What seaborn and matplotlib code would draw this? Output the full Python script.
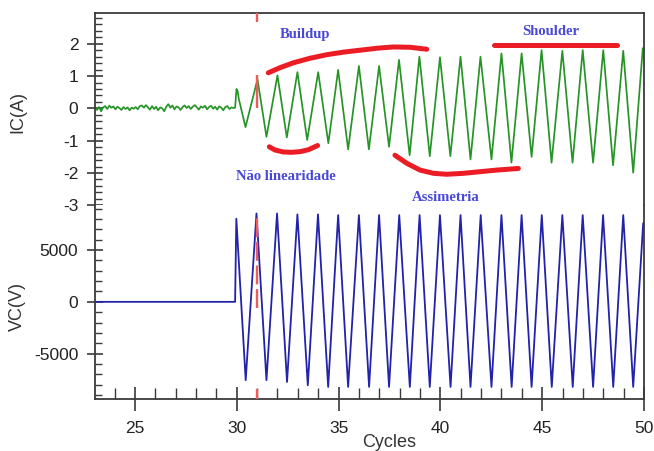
import matplotlib
matplotlib.use("Agg")
import matplotlib.pyplot as plt
import seaborn as sns
import pandas as pd
from matplotlib.ticker import MultipleLocator, FixedLocator

# ---------------- data ----------------
noise_cycle = [23.04, 23.14, 23.24, 23.34, 23.44, 23.54, 23.64, 23.74, 23.84, 23.94,
               24.04, 24.14, 24.24, 24.34, 24.44, 24.54, 24.64, 24.74, 24.84, 24.94,
               25.04, 25.14, 25.24, 25.34, 25.44, 25.54, 25.64, 25.74, 25.84, 25.94,
               26.04, 26.14, 26.24, 26.34, 26.44, 26.54, 26.64, 26.74, 26.84, 26.94,
               27.04, 27.14, 27.24, 27.34, 27.44, 27.54, 27.64, 27.74, 27.84, 27.94,
               28.04, 28.14, 28.24, 28.34, 28.44, 28.54, 28.64, 28.74, 28.84, 28.94,
               29.04, 29.14, 29.24, 29.34, 29.44, 29.54, 29.64, 29.74, 29.84]
noise_ic = [0.02, -0.05, 0.04, -0.09, 0.03, 0.07, -0.02, 0.08, 0.02, 0.06,
            -0.03, 0.05, 0.01, -0.05, 0.04, -0.02, 0.03, -0.06, 0.02, -0.01,
            0.04, -0.03, 0.07, 0.09, 0.02, 0.10, 0.03, -0.04, 0.07, -0.02,
            0.05, -0.06, 0.03, 0.00, -0.09, 0.05, 0.13, 0.02, 0.09, -0.03,
            0.06, 0.03, -0.05, 0.04, 0.09, 0.01, 0.07, -0.02, 0.05, 0.10,
            0.03, -0.04, 0.06, 0.02, 0.08, -0.03, 0.04, 0.08, -0.01, 0.05,
            -0.04, 0.06, 0.02, -0.06, 0.04, 0.07, -0.02, 0.03, 0.01]

ic_cycle = [29.92, 29.99, 30.05, 30.10, 30.43, 31.02, 31.46, 32.00, 32.46, 32.98,
            33.46, 34.00, 34.50, 34.98, 35.47, 36.00, 36.49, 36.99, 37.48, 37.97,
            38.49, 38.97, 39.48, 39.98, 40.49, 40.99, 41.48, 41.97, 42.51, 43.00,
            43.49, 43.99, 44.48, 44.97, 45.46, 45.99, 46.49, 46.99, 47.50, 48.00,
            48.48, 48.98, 49.47, 49.94]
ic_amp = [0.02, 0.60, 0.52, 0.30, -0.58, 0.90, -0.88, 1.02, -0.90, 1.12,
          -0.98, 1.12, -1.08, 1.19, -1.27, 1.31, -1.27, 1.31, -1.19, 1.50,
          -1.45, 1.60, -1.48, 1.58, -1.48, 1.60, -1.58, 1.60, -1.58, 1.70,
          -1.68, 1.70, -1.50, 1.80, -1.68, 1.78, -1.68, 1.80, -1.68, 1.80,
          -1.76, 1.78, -1.99, 1.86]

vc_cycle = [23.04, 29.92, 29.98, 30.44, 30.97, 31.46, 31.98, 32.47, 32.98, 33.49,
            33.99, 34.49, 34.98, 35.47, 36.00, 36.50, 36.99, 37.48, 37.98, 38.50,
            38.98, 39.48, 39.98, 40.50, 40.99, 41.48, 41.98, 42.51, 43.00, 43.50,
            43.99, 44.48, 44.98, 45.47, 45.99, 46.50, 46.99, 47.50, 47.99, 48.49,
            48.98, 49.47, 49.96]
vc_volt = [0, 0, 8030, -7570, 8540, -7570, 8540, -7740, 8450, -8060,
           8450, -8220, 8380, -8220, 8380, -8220, 8380, -8220, 8380, -8220,
           8380, -8220, 8380, -8220, 8380, -8220, 8380, -8220, 8380, -8220,
           8380, -8220, 8380, -8220, 8380, -8220, 8380, -8220, 8380, -8220,
           8380, -8220, 7600]

# red hand-drawn annotation strokes (cycle, IC)
buildup_x = [31.55, 32.13, 32.78, 33.60, 34.42, 35.24, 36.06, 36.88, 37.69, 38.51, 39.33]
buildup_y = [1.10, 1.26, 1.41, 1.55, 1.66, 1.74, 1.80, 1.86, 1.90, 1.89, 1.83]
shoulder_x = [42.65, 48.66]
shoulder_y = [1.96, 1.96]
nonlin_x = [31.60, 31.88, 32.29, 32.70, 33.11, 33.52, 33.97]
nonlin_y = [-1.19, -1.29, -1.35, -1.36, -1.34, -1.28, -1.15]
asym_x = [37.77, 38.35, 39.00, 39.66, 40.31, 41.13, 41.95, 42.77, 43.83]
asym_y = [-1.45, -1.70, -1.91, -2.01, -2.04, -2.01, -1.96, -1.91, -1.86]

marker_cycle = 31.0
marker_ic_spans = [(0.0, 1.04), (2.68, 2.96)]
marker_vc_dashed = (-640, 8400)
marker_vc_stub = (-9390, -8400)

annotations = ["Buildup", "Shoulder", "Não linearidade", "Assimetria"]
ic_ticks = [-3, -2, -1, 0, 1, 2]
vc_ticks = [-5000, 0, 5000]
x_ticks = [25, 30, 35, 40, 45, 50]

# ---------------- figure ----------------
sns.set_theme(style="ticks")
plt.rcParams['font.family'] = ['Liberation Sans', 'DejaVu Sans']
plt.rcParams['axes.unicode_minus'] = False

fig = plt.figure(figsize=(6.54, 4.51), dpi=100)
L, R = 95 / 654, 644 / 654
y_top, y_mid, y_bot = 1 - 12.7 / 451, 1 - 205.3 / 451, 1 - 399 / 451
ax_top = fig.add_axes([L, y_mid, R - L, y_top - y_mid])
ax_bot = fig.add_axes([L, y_bot, R - L, y_mid - y_bot])

green = "#279427"
blue = "#2222aa"
red = "#ec1c24"
txt_blue = "#4848d8"
spine_col = "#3a3a3a"

ic_df = pd.DataFrame({"cycle": noise_cycle + ic_cycle, "ic": noise_ic + ic_amp})
vc_df = pd.DataFrame({"cycle": vc_cycle, "vc": vc_volt})

sns.lineplot(data=ic_df, x="cycle", y="ic", ax=ax_top, color=green, lw=1.25,
             sort=False, estimator=None)
sns.lineplot(data=vc_df, x="cycle", y="vc", ax=ax_bot, color=blue, lw=1.3,
             sort=False, estimator=None)

# red annotation strokes
for xs, ys in [(buildup_x, buildup_y), (shoulder_x, shoulder_y),
               (nonlin_x, nonlin_y), (asym_x, asym_y)]:
    ax_top.plot(xs, ys, color=red, lw=3.6, solid_capstyle="round",
                solid_joinstyle="round", zorder=5)

# red vertical marker
mk_col = "#f05a5a"
for lo, hi in marker_ic_spans:
    ax_top.vlines(marker_cycle, lo, hi, color=mk_col, lw=1.7, zorder=4)
ax_bot.vlines(marker_cycle, *marker_vc_dashed, color=mk_col, lw=1.7,
              linestyles=(0, (8, 2)), zorder=4)
ax_bot.vlines(marker_cycle, *marker_vc_stub, color=mk_col, lw=1.7, zorder=4)

# annotation texts
txt_kw = dict(family=["Liberation Serif", "DejaVu Serif"], weight="bold",
              fontsize=10.5, color=txt_blue, ha="center", va="center")
text_pos = [(33.36, 2.27), (45.40, 2.37), (32.43, -2.12), (40.28, -2.76)]
for label, (tx, ty) in zip(annotations, text_pos):
    ax_top.text(tx, ty, label, **txt_kw)

# axes limits
for ax in (ax_top, ax_bot):
    ax.set_xlim(23.04, 50)
ax_top.set_ylim(-3.0, 2.96)
ax_bot.set_ylim(-9390, 9330)

# spines
ax_top.spines["bottom"].set_visible(False)
ax_bot.spines["top"].set_visible(False)
for ax in (ax_top, ax_bot):
    for s in ax.spines.values():
        s.set_color(spine_col)
        s.set_linewidth(1.3)

# ticks
ax_top.tick_params(axis="x", which="both", bottom=False, top=False,
                   labelbottom=False)
ax_top.yaxis.set_major_locator(FixedLocator(ic_ticks))
ax_top.yaxis.set_minor_locator(MultipleLocator(0.2))
ax_bot.yaxis.set_major_locator(FixedLocator(vc_ticks))
ax_bot.yaxis.set_minor_locator(MultipleLocator(1000))
ax_bot.xaxis.set_major_locator(FixedLocator(x_ticks))
ax_bot.xaxis.set_minor_locator(MultipleLocator(1))

for ax in (ax_top, ax_bot):
    ax.tick_params(axis="y", which="major", direction="inout", length=11,
                   width=1.2, pad=6.5, labelsize=12.5, colors=spine_col,
                   labelcolor="#222222")
    ax.tick_params(axis="y", which="minor", direction="in", length=5,
                   width=1.0, colors=spine_col, left=True)
ax_bot.tick_params(axis="x", which="major", direction="inout", length=17,
                   width=1.2, pad=7.5, labelsize=12.5, colors=spine_col,
                   labelcolor="#222222")
ax_bot.tick_params(axis="x", which="minor", direction="in", length=8,
                   width=1.0, colors=spine_col, bottom=True)

# labels
lab_kw = dict(fontsize=13, color="#333333")
ax_top.set_ylabel("IC(A)", **lab_kw)
ax_bot.set_ylabel("VC(V)", **lab_kw)
ax_bot.set_xlabel("Cycles", **lab_kw)
ax_top.yaxis.set_label_coords(-0.14, 0.484)
ax_bot.yaxis.set_label_coords(-0.142, 0.479)
ax_bot.xaxis.set_label_coords(0.535, -0.227)
ax_top.yaxis.label.set_va("center")
ax_bot.yaxis.label.set_va("center")
ax_bot.xaxis.label.set_va("center")

fig.savefig("out.png", dpi=100)
